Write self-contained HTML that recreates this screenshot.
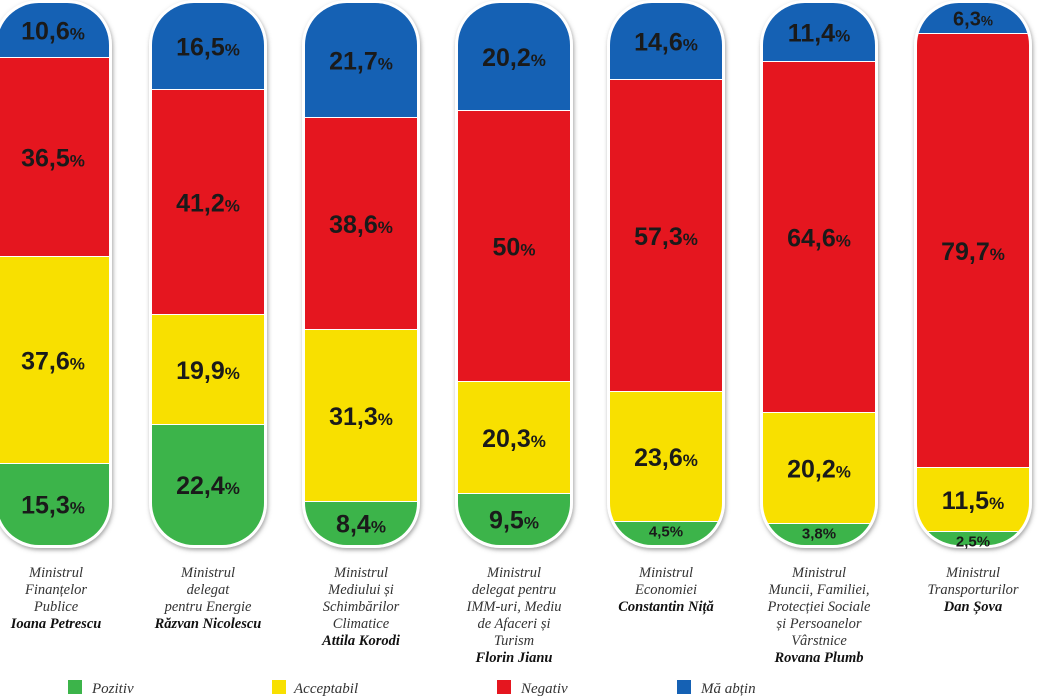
<!DOCTYPE html>
<html><head><meta charset="utf-8"><style>
body{margin:0;background:#fff;}
svg{display:block}
.v{font-family:"Liberation Sans",sans-serif;font-weight:bold;font-size:25px;fill:#1a1a1a;text-anchor:middle}
.c{font-family:"Liberation Serif",serif;font-style:italic;font-size:14.5px;fill:#333;text-anchor:middle}
.b{font-weight:bold;fill:#111}
.l{font-family:"Liberation Serif",serif;font-style:italic;font-size:15px;fill:#333}
</style></head><body>
<svg width="1051" height="700" viewBox="0 0 1051 700">
<defs>
<filter id="sh" x="-20%" y="-5%" width="140%" height="110%"><feDropShadow dx="1" dy="2" stdDeviation="2" flood-color="#666" flood-opacity="0.6"/></filter>
</defs>
<g id="bars"></g>
<g>
<rect x="68" y="680" width="14" height="14" fill="#3cb44a"/><text class="l" x="92" y="693">Pozitiv</text>
<rect x="272" y="680" width="14" height="14" fill="#f8e000"/><text class="l" x="294" y="693">Acceptabil</text>
<rect x="497" y="680" width="14" height="14" fill="#e5161f"/><text class="l" x="521" y="693">Negativ</text>
<rect x="677" y="680" width="14" height="14" fill="#1561b4"/><text class="l" x="701" y="693">Mă abțin</text>
</g>
</svg>
<script>
var data=[
[-3,[58,257,464],["10,6","36,5","37,6","15,3"],["Ministrul","Finanțelor","Publice"],"Ioana Petrescu"],
[152,[90,315,425],["16,5","41,2","19,9","22,4"],["Ministrul","delegat","pentru Energie"],"Răzvan Nicolescu"],
[305,[118,330,502],["21,7","38,6","31,3","8,4"],["Ministrul","Mediului și","Schimbărilor","Climatice"],"Attila Korodi"],
[458,[111,382,494],["20,2","50","20,3","9,5"],["Ministrul","delegat pentru","IMM-uri, Mediu","de Afaceri și","Turism"],"Florin Jianu"],
[610,[80,392,522],["14,6","57,3","23,6","4,5"],["Ministrul","Economiei"],"Constantin Niță"],
[763,[62,413,524],["11,4","64,6","20,2","3,8"],["Ministrul","Muncii, Familiei,","Protecției Sociale","și Persoanelor","Vârstnice"],"Rovana Plumb"],
[917,[34,468,532],["6,3","79,7","11,5","2,5"],["Ministrul","Transporturilor"],"Dan Șova"]];
var cols=["#1561b4","#e5161f","#f8e000","#3cb44a"];
var g=document.getElementById("bars"),h="";
data.forEach(function(d,i){
 var x=d[0],w=112,top=3,bot=545,r=42;
 h+='<clipPath id="c'+i+'"><rect x="'+x+'" y="'+top+'" width="'+w+'" height="'+(bot-top)+'" rx="'+r+'"/></clipPath>';
 h+='<rect x="'+(x-3)+'" y="'+(top-3)+'" width="'+(w+6)+'" height="'+(bot-top+6)+'" rx="'+(r+3)+'" fill="#fff" filter="url(#sh)"/>';
 var ys=[top].concat(d[1]).concat([bot]);
 h+='<g clip-path="url(#c'+i+')">';
 for(var k=0;k<4;k++){h+='<rect x="'+x+'" y="'+ys[k]+'" width="'+w+'" height="'+(ys[k+1]-ys[k])+'" fill="'+cols[k]+'"/>';
  if(k<3)h+='<rect x="'+x+'" y="'+(ys[k+1]-1)+'" width="'+w+'" height="2" fill="#fff"/>';}
 h+='</g>';
 for(var k=0;k<4;k++){var hh=ys[k+1]-ys[k],cy=(ys[k]+ys[k+1])/2,sz=hh<30?15:25,ps=0.68;
  if(k==0&&i==6)sz=20;
  if(hh<30&&k==3){cy=ys[k]+9;ps=1;}
  h+='<text class="v" style="font-size:'+sz+'px" x="'+(x+w/2)+'" y="'+(cy+sz*0.36)+'">'+d[2][k]+'<tspan style="font-size:'+(sz*ps)+'px">%</tspan></text>';}
 var cx=x+w/2+(i==0?3:0),yy=577;
 d[3].forEach(function(t){h+='<text class="c" x="'+cx+'" y="'+yy+'">'+t+'</text>';yy+=17;});
 h+='<text class="c b" x="'+cx+'" y="'+yy+'">'+d[4]+'</text>';
});
g.innerHTML=h;
</script>
</body></html>
